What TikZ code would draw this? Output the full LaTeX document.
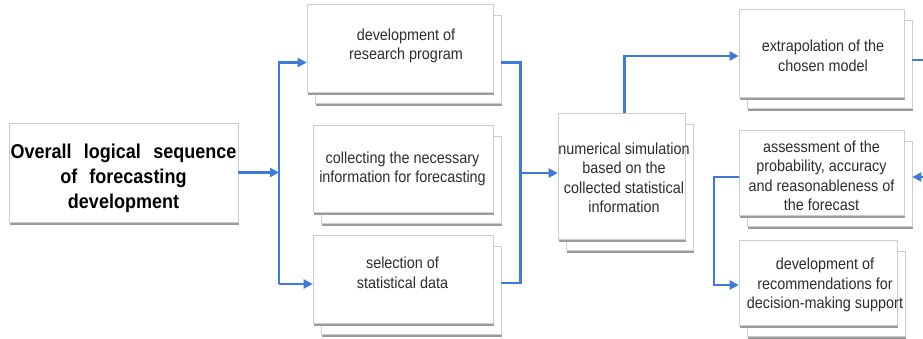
\documentclass[tikz,border=0pt]{standalone}
\usepackage{fontspec}
\setmainfont[FakeStretch=0.9]{Liberation Sans}
\usetikzlibrary{shadows,arrows.meta,calc}
\definecolor{flow}{RGB}{62,122,218}
\definecolor{boxline}{RGB}{205,205,205}
\definecolor{shade}{RGB}{155,155,155}
\definecolor{ink}{RGB}{45,45,45}
\tikzset{
  base/.style={draw=boxline, fill=white, line width=0.6pt, inner sep=0pt},
  frontshadow/.style={drop shadow={shadow xshift=1pt, shadow yshift=-2.5pt, fill=shade, opacity=1}},
  stack/.style={base,
    drop shadow={shadow xshift=9pt, shadow yshift=-13.5pt, fill=shade, opacity=1},
    copy shadow={shadow xshift=8pt, shadow yshift=-11pt, draw=boxline, fill=white, line width=0.6pt},
    frontshadow},
  single/.style={base, frontshadow},
  txt/.style={align=center, inner sep=0pt, text=ink, font=\fontsize{16}{19.5}\selectfont},
  head/.style={align=center, inner sep=0pt, text=black, font=\fontsize{20}{25}\selectfont\bfseries},
  link/.style={draw=flow, line width=2.2pt},
  arr/.style={link, -{Triangle[length=9pt,width=9pt]}},
}
\begin{document}
\begin{tikzpicture}[x=1pt,y=-1pt]
\useasboundingbox[fill=white] (0,0) rectangle (923,338);

% boxes
\node[single, minimum width=229pt, minimum height=99pt] (over) at (123.5,172.5) {};
\node[head] (overt) at (123.5,178) {\makebox[226pt][s]{Overall logical sequence}\\\makebox[126pt][s]{of forecasting}\\development};

\node[stack, minimum width=186pt, minimum height=88pt] (b1) at (400,48) {};
\node[stack, minimum width=180pt, minimum height=87pt] (b2) at (403,168.5) {};
\node[stack, minimum width=180pt, minimum height=88pt] (b3) at (403,279) {};
\node[stack, minimum width=127pt, minimum height=126pt] (num) at (621.5,176) {};
\node[stack, minimum width=165pt, minimum height=88pt] (ext) at (821.5,53) {};
\node[stack, minimum width=165pt, minimum height=85pt] (ass) at (821.5,172.5) {};
\node[stack, minimum width=158pt, minimum height=85pt] (dev) at (818,282.5) {};

\node[txt] (t1) at (406,46) {development of\\research program};
\node[txt] (t2) at (402.5,169) {collecting the necessary\\information for forecasting};
\node[txt] (t3) at (402.5,273) {selection of\\statistical data};
\node[txt] (tn) at (624,178) {numerical simulation\\based on the\\collected statistical\\information};
\node[txt] (te) at (823,56) {extrapolation of the\\chosen model};
\node[txt] (ta) at (821.5,176) {assessment of the\\probability, accuracy\\and reasonableness of\\the forecast};
\node[txt] (td) at (825,285) {development of\\recommendations for\\decision-making support};

% connectors left
\coordinate (j1) at (279,172.5);
\coordinate (jt) at (279,62.5);
\coordinate (jb) at (279,284);
\draw[arr] (over.east) -- (j1);
\draw[arr] (jb) -- (jt) -- (jt -| b1.west);
\draw[arr] (jt |- jb) -- (jb -| b3.west);

% connectors middle
\coordinate (kt) at (520.5,62.5);
\coordinate (kb) at (520.5,283);
\coordinate (km) at (520.5,173);
\coordinate (b1r) at ($(b1.east)+(8,0)$);
\coordinate (b3r) at ($(b3.east)+(8,0)$);
\draw[link] (b1r |- kt) -- (kt) -- (kb) -- (b3r |- kb);
\draw[arr] (km) -- (km -| num.west);

% numerical to extrapolation
\coordinate (nt) at ($(num.north)+(3,0)$);
\coordinate (ein) at ($(ext.west)+(0,3)$);
\draw[arr] (nt) |- (ein);

% right side
\coordinate (eo) at (923,60);
\draw[link] ($(ext.east)+(8,7)$) -- (eo);
\coordinate (ai) at (923,177);
\draw[arr] (ai) -- ($(ass.east)+(8,4.5)$);

\coordinate (v1) at (714,177);
\coordinate (v2) at (714,285);
\draw[arr] (ass.west |- v1) -- (v1) -- (v2) -- (v2 -| dev.west);
\end{tikzpicture}
\end{document}
